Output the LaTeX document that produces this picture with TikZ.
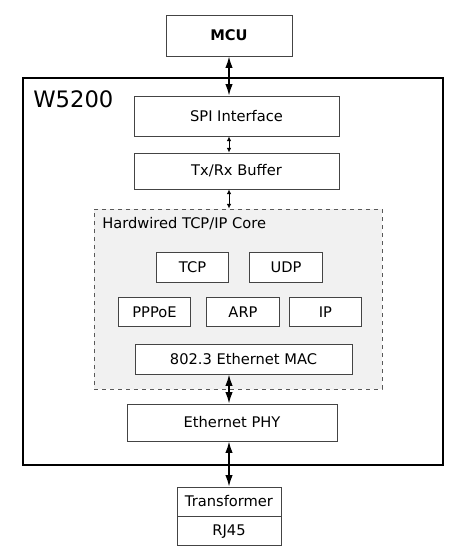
\documentclass[tikz,border=0pt]{standalone}
\usepackage{fontspec}
\setmainfont{DejaVu Sans}
\usetikzlibrary{positioning,arrows.meta}
\definecolor{coregray}{HTML}{F1F1F1}
\definecolor{edgegray}{HTML}{444444}
\tikzstyle{block} = [rectangle, draw=edgegray, line width=0.7pt, fill=white, text centered, inner sep=0pt, font=\fontsize{11}{13}\selectfont]
\tikzstyle{proto} = [block, minimum width=54.5pt, minimum height=22pt]
\tikzstyle{core} = [rectangle, draw=black!65, dashed, line width=0.7pt, fill=coregray]
\tikzstyle{line} = [draw, {Latex[length=8.5pt,width=5.5pt]}-{Latex[length=8.5pt,width=5.5pt]}, line width=1.1pt]
\tikzstyle{thinline} = [draw, {Latex[length=3.5pt,width=3.5pt]}-{Latex[length=3.5pt,width=3.5pt]}, line width=0.7pt]
\begin{document}
\begin{tikzpicture}[x=0.75pt, y=-0.75pt]
\useasboundingbox (0,0) rectangle (459,549);
% Chip outline
    \node [draw, line width=1.6pt, minimum width=315pt, minimum height=290.25pt] (chip) at (233,271.5) {};
    \node [anchor=base west, inner sep=0pt, font=\fontsize{17}{19}\selectfont] (chipname) at (33,108) {W5200};
% Host side
    \node [block, minimum width=94.5pt, minimum height=30.75pt, font=\bfseries\fontsize{11}{13}\selectfont] (mcu) at (229,35.5) {MCU};
    \node [block, minimum width=153.75pt, minimum height=30pt] (spi) at (236.5,116) {SPI Interface};
    \node [block, minimum width=153.75pt, minimum height=27pt] (buf) at (236.5,171) {Tx/Rx Buffer};
% Hardwired core
    \node [core, minimum width=216pt, minimum height=135pt] (core) at (238,299) {};
    \node [anchor=base west, inner sep=0pt, font=\fontsize{11}{13}\selectfont] (corename) at (102,228) {Hardwired TCP/IP Core};
    \node [proto] (tcp) at (192.5,267.5) {TCP};
    \node [proto] (udp) at (286,267.5) {UDP};
    \node [proto] (pppoe) at (154.5,312) {PPPoE};
    \node [proto] (arp) at (243,312) {ARP};
    \node [proto] (ip) at (325.5,312) {IP};
    \node [block, minimum width=162.75pt, minimum height=22.5pt] (mac) at (243.5,359) {802.3 Ethernet MAC};
% Line side
    \node [block, minimum width=157.5pt, minimum height=27.75pt] (phy) at (232,422.5) {Ethernet PHY};
    \node [block, minimum width=78pt, minimum height=21.75pt] (trans) at (229,501.5) {Transformer};
    \node [block, minimum width=78pt, minimum height=21.75pt, below=0pt of trans] (rj) {RJ45};

    \path [line] (mcu.south) -- (mcu.south |- spi.north);
    \path [thinline] (mcu.south |- spi.south) -- (mcu.south |- buf.north);
    \path [thinline] (mcu.south |- buf.south) -- (mcu.south |- core.north);
    \path [line] (mcu.south |- mac.south) -- (mcu.south |- phy.north);
    \path [line] (mcu.south |- phy.south) -- (trans.north);
\end{tikzpicture}
\end{document}
